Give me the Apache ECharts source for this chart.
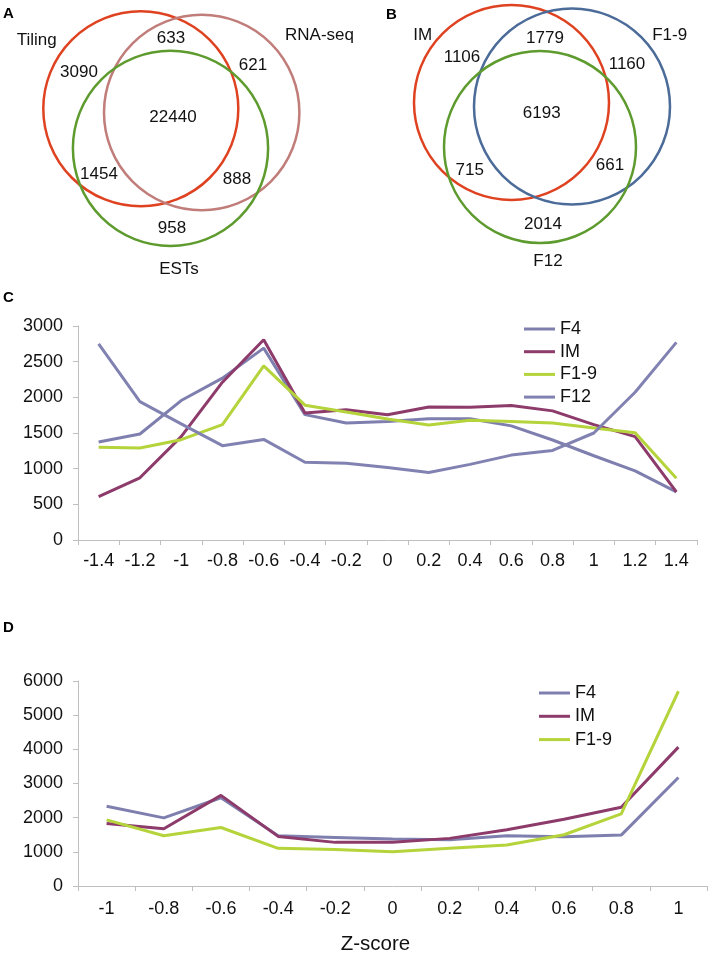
<!DOCTYPE html>
<html><head><meta charset="utf-8">
<script src="https://cdn.jsdelivr.net/npm/echarts@6/dist/echarts.min.js"></script>
<style>html,body{margin:0;padding:0;background:#fff}#c{width:708px;height:956px}</style>
</head><body><div id="c"></div>
<script>
// ---------- data ----------
var vennA_sets = ['Tiling', 'RNA-seq', 'ESTs'];
// Tiling only, Tiling∩RNA, RNA only, all, Tiling∩EST, RNA∩EST, EST only
var vennA_counts = [3090, 633, 621, 22440, 1454, 888, 958];
var vennB_sets = ['IM', 'F1-9', 'F12'];
// IM only, IM∩F1-9, F1-9 only, all, IM∩F12, F1-9∩F12, F12 only
var vennB_counts = [1106, 1779, 1160, 6193, 715, 661, 2014];

var zC = ['-1.4', '-1.2', '-1', '-0.8', '-0.6', '-0.4', '-0.2', '0', '0.2', '0.4', '0.6', '0.8', '1', '1.2', '1.4'];
var C_F4  = [1375, 1486, 1955, 2269, 2690, 1758, 1640, 1660, 1700, 1700, 1600, 1402, 1181, 970, 675];
var C_IM  = [609, 872, 1450, 2212, 2808, 1780, 1825, 1755, 1865, 1862, 1885, 1810, 1617, 1450, 675];
var C_F19 = [1300, 1289, 1406, 1617, 2440, 1890, 1795, 1697, 1612, 1680, 1660, 1640, 1570, 1505, 867];
var C_F12 = [2750, 1940, 1627, 1322, 1410, 1090, 1075, 1017, 947, 1060, 1190, 1255, 1500, 2072, 2770];

var zD = ['-1', '-0.8', '-0.6', '-0.4', '-0.2', '0', '0.2', '0.4', '0.6', '0.8', '1'];
var D_F4  = [2332, 1994, 2584, 1471, 1423, 1374, 1355, 1471, 1442, 1490, 3174];
var D_IM  = [1829, 1674, 2652, 1452, 1277, 1277, 1394, 1645, 1955, 2303, 4065];
var D_F19 = [1935, 1471, 1713, 1103, 1065, 1006, 1103, 1200, 1500, 2110, 5700];

// ---------- layout / style ----------
var FONT = 'Liberation Sans, Arial, sans-serif';
var vennCircles = [
  [140.8, 108.8, 97.5], [201.7, 112.5, 97.7], [170.5, 148.3, 97.6],
  [511.5, 102.5, 97.5], [572, 106.5, 98], [540, 147, 96]
];
var vennColors = ['#df4220', '#c07d7a', '#5e9b2e', '#df4220', '#4b6b99', '#5e9b2e'];
var vennTextPos = [
  [36.7, 40], [319.5, 35], [179, 269],
  [79, 72], [171, 38], [253, 65], [173, 117], [99, 174], [237, 179], [172, 228],
  [422.7, 35], [669.7, 35], [548, 261],
  [462, 57], [545, 38], [627, 64], [541.7, 113], [469.7, 170], [610, 165], [543, 224]
];
var vennTexts = [].concat(vennA_sets, vennA_counts.map(String), vennB_sets, vennB_counts.map(String));

var COL = { F4: '#7e7fae', IM: '#8d3b6b', F19: '#b5d33a', F12: '#8182b2' };

var chart = echarts.init(document.getElementById('c'), null, { renderer: 'canvas' });

function lineAxisX(gi, data, margin, extra) {
  var o = {
    type: 'category', gridIndex: gi, data: data, boundaryGap: true,
    axisLine: { lineStyle: { color: '#bfbfbf', width: 1 } },
    axisTick: { show: true, length: 5, lineStyle: { color: '#bfbfbf' } },
    axisLabel: { fontSize: 18, color: '#111', fontFamily: FONT, margin: margin, interval: 0 },
    splitLine: { show: false }
  };
  for (var k in extra) o[k] = extra[k];
  return o;
}
function lineAxisY(gi, max, interval) {
  return {
    type: 'value', gridIndex: gi, min: 0, max: max, interval: interval,
    axisLine: { show: true, lineStyle: { color: '#bfbfbf', width: 1 } },
    axisTick: { show: true, length: 5, lineStyle: { color: '#bfbfbf' } },
    axisLabel: { fontSize: 18, color: '#111', fontFamily: FONT, margin: 15,
      formatter: function (v) { return String(v); } },
    splitLine: { show: false }
  };
}
function lineSeries(name, data, color, xi, yi) {
  return {
    type: 'line', name: name, data: data, xAxisIndex: xi, yAxisIndex: yi,
    symbol: 'none', smooth: false, color: color,
    lineStyle: { color: color, width: 3 }, z: 3
  };
}

var option = {
  animation: false,
  backgroundColor: '#fff',
  textStyle: { fontFamily: FONT },
  title: [
    { text: 'A', left: 3, top: 6, padding: 0, textStyle: { fontSize: 15, fontWeight: 'bold', color: '#000', fontFamily: FONT } },
    { text: 'B', left: 386, top: 7, padding: 0, textStyle: { fontSize: 15, fontWeight: 'bold', color: '#000', fontFamily: FONT } },
    { text: 'C', left: 3, top: 290, padding: 0, textStyle: { fontSize: 15, fontWeight: 'bold', color: '#000', fontFamily: FONT } },
    { text: 'D', left: 3, top: 620, padding: 0, textStyle: { fontSize: 15, fontWeight: 'bold', color: '#000', fontFamily: FONT } }
  ],
  grid: [
    { left: 0, top: 0, width: 708, height: 280 },
    { left: 78, top: 326, width: 619, height: 214 },
    { left: 78, top: 681, width: 629, height: 206 }
  ],
  xAxis: [
    { type: 'value', gridIndex: 0, min: 0, max: 708, show: false },
    lineAxisX(1, zC, 12, {}),
    lineAxisX(2, zD, 14, {
      name: 'Z-score', nameLocation: 'middle', nameGap: 48,
      nameTextStyle: { fontSize: 20.5, color: '#111', fontFamily: FONT, padding: [0, 34, 0, 0] }
    })
  ],
  yAxis: [
    { type: 'value', gridIndex: 0, min: 0, max: 280, inverse: true, show: false },
    lineAxisY(1, 3000, 500),
    lineAxisY(2, 6000, 1000)
  ],
  legend: [
    {
      data: ['F4', 'IM', 'F1-9', 'F12'], orient: 'vertical', left: 524, top: 320,
      icon: 'rect', itemWidth: 31, itemHeight: 3, itemGap: 4.7, padding: 0,
      textStyle: { fontSize: 18, lineHeight: 18, color: '#111', fontFamily: FONT },
      selectedMode: false
    },
    {
      data: ['F4', 'IM', 'F1-9'], orient: 'vertical', left: 539, top: 684,
      icon: 'rect', itemWidth: 31, itemHeight: 3, itemGap: 5.3, padding: 0,
      textStyle: { fontSize: 18, lineHeight: 18, color: '#111', fontFamily: FONT },
      selectedMode: false
    }
  ],
  series: [
    {
      type: 'custom', xAxisIndex: 0, yAxisIndex: 0, clip: false, silent: true,
      data: vennCircles,
      renderItem: function (params, api) {
        var c = api.coord([api.value(0), api.value(1)]);
        var r = api.size([api.value(2), 0])[0];
        return {
          type: 'circle', shape: { cx: c[0], cy: c[1], r: r },
          style: { fill: 'none', stroke: vennColors[params.dataIndex], lineWidth: 2.5 }
        };
      }
    },
    {
      type: 'custom', xAxisIndex: 0, yAxisIndex: 0, clip: false, silent: true,
      data: vennTextPos,
      renderItem: function (params, api) {
        var c = api.coord([api.value(0), api.value(1)]);
        return {
          type: 'text', x: c[0], y: c[1],
          style: {
            text: vennTexts[params.dataIndex], align: 'center', verticalAlign: 'middle',
            fontSize: 17, fontFamily: FONT, fill: '#111'
          }
        };
      }
    },
    lineSeries('F4', C_F4, COL.F4, 1, 1),
    lineSeries('IM', C_IM, COL.IM, 1, 1),
    lineSeries('F1-9', C_F19, COL.F19, 1, 1),
    lineSeries('F12', C_F12, COL.F12, 1, 1),
    lineSeries('F4', D_F4, COL.F4, 2, 2),
    lineSeries('IM', D_IM, COL.IM, 2, 2),
    lineSeries('F1-9', D_F19, COL.F19, 2, 2)
  ]
};
chart.setOption(option);
</script>
</body></html>
